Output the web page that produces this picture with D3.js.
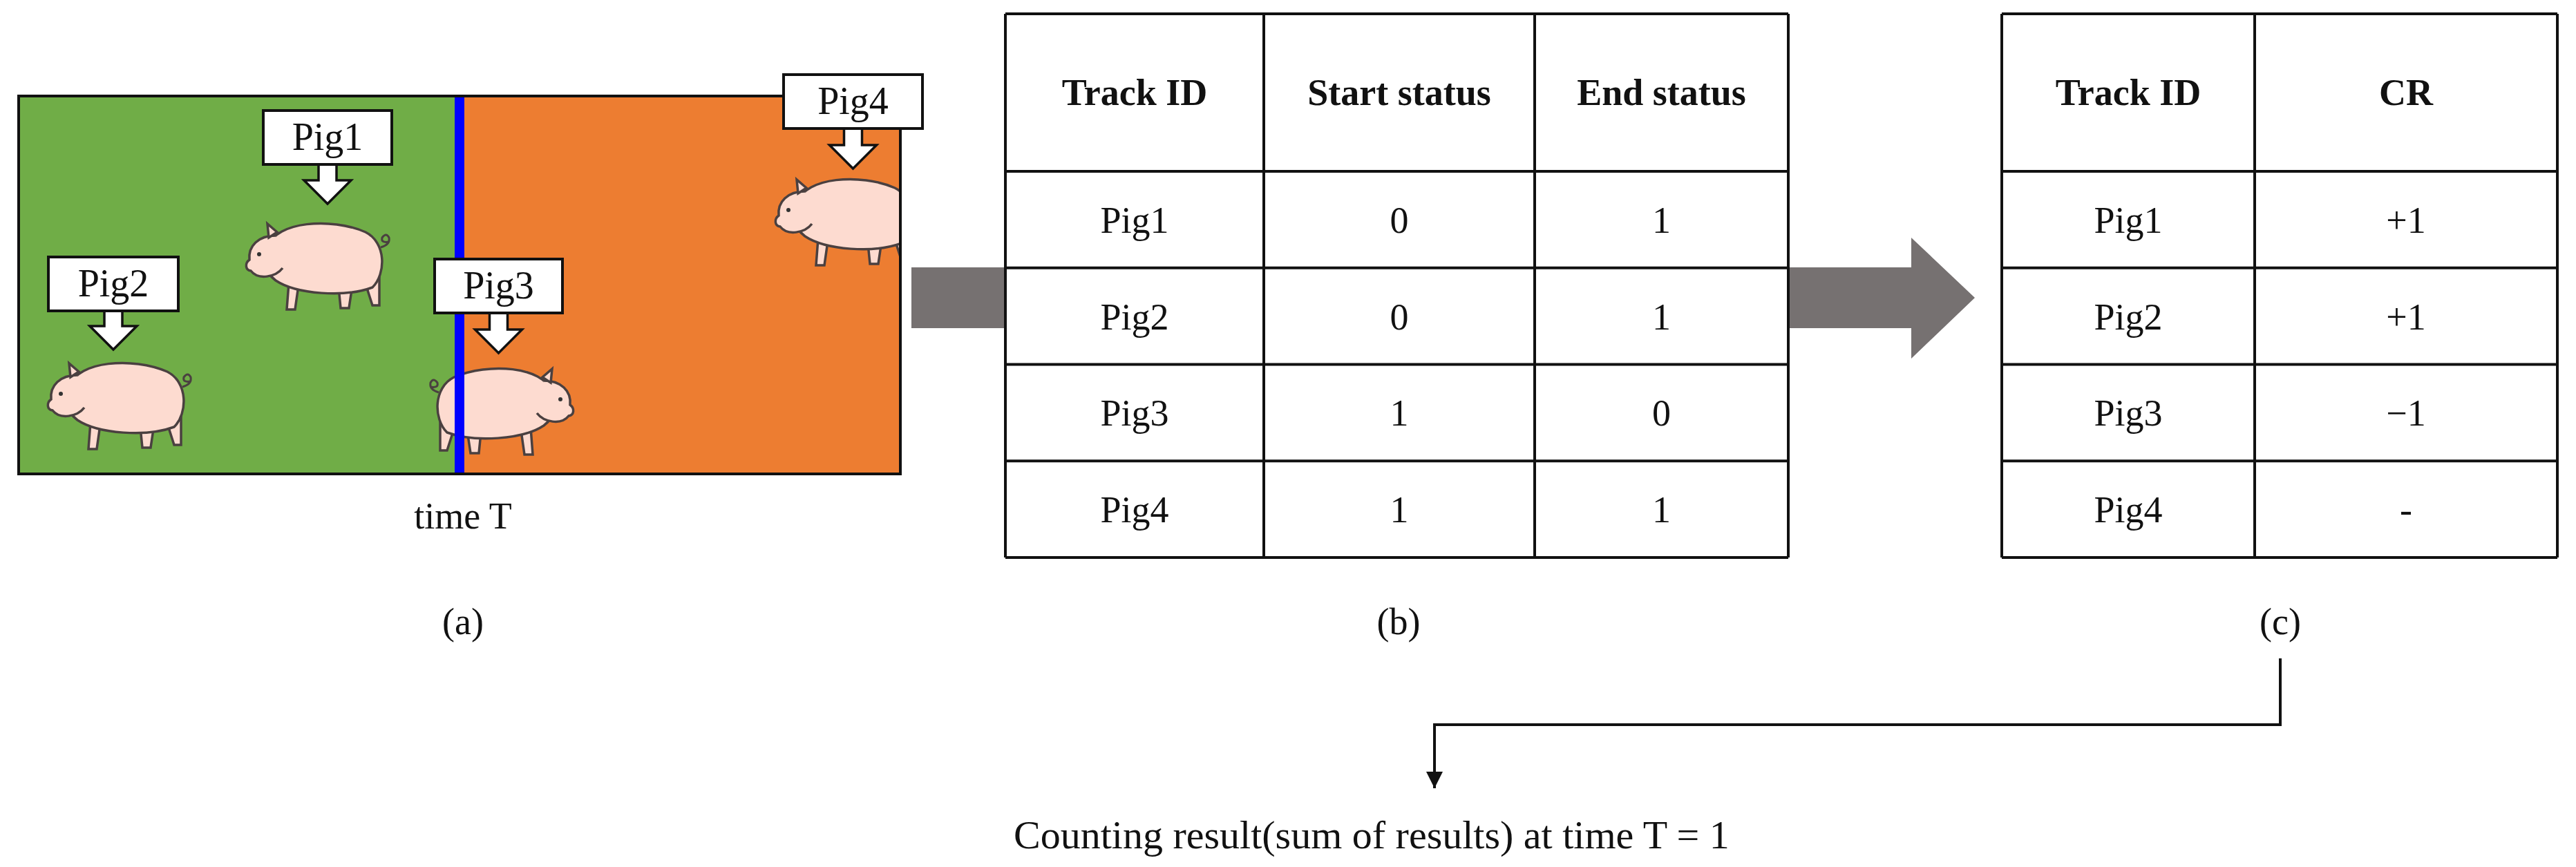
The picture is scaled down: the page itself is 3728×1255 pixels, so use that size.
<!DOCTYPE html>
<html><head><meta charset="utf-8">
<script src="https://cdn.jsdelivr.net/npm/d3@7"></script>
<style>body{margin:0;background:#fff}svg{display:block}text{font-family:"Liberation Serif","DejaVu Serif",serif;fill:#111}</style>
</head><body>
<script>
const trackIds = ["Pig1","Pig2","Pig3","Pig4"];
const startStatus = ["0","0","1","1"];
const endStatus = ["1","1","0","1"];
const crValues = ["+1","+1","\u22121","-"];
const headersB = ["Track ID","Start status","End status"];
const headersC = ["Track ID","CR"];
const panelLabels = ["(a)","(b)","(c)"];
const resultText = "Counting result(sum of results) at time T = 1";

const W=3728,H=1255;
const svg=d3.select("body").append("svg").attr("width",W).attr("height",H);
const defs=svg.append("defs");
defs.append("marker").attr("id","ah").attr("viewBox","0 0 10 10").attr("refX",10).attr("refY",5)
 .attr("markerWidth",4).attr("markerHeight",6).attr("orient","auto").attr("markerUnits","userSpaceOnUse")
 .attr("markerWidth",24).attr("markerHeight",40)
 .append("path").attr("d","M0,0L10,5L0,10Z").attr("fill","#111");

// Panel (a)
const ax=27, ay=139, aw=1276, ah=547;
const xs=d3.scaleLinear().domain([0,1]).range([ax,ax+aw]);
const split=xs(0.5);
svg.append("rect").attr("x",ax).attr("y",ay).attr("width",split-ax).attr("height",ah).attr("fill","#70ad47");
svg.append("rect").attr("x",split).attr("y",ay).attr("width",ax+aw-split).attr("height",ah).attr("fill","#ed7d31");
defs.append("clipPath").attr("id","clipA").append("rect").attr("x",ax).attr("y",ay-200).attr("width",aw).attr("height",ah+400);

function pig(x,y,s,flip,clip){
  const g=svg.append("g").attr("transform",`translate(${x},${y}) scale(${flip?-s:s},${s})`);
  if(clip) g.attr("clip-path",null);
  const st={fill:"#fddbd0",stroke:"#4a4040","stroke-width":3.5/s};
  const ap=(d)=>{const p=g.append("path").attr("d",d);Object.entries(st).forEach(([k,v])=>p.attr(k,v));return p;};
  // tail
  g.append("path").attr("d","M92,-18 q14,-4 12,-14 q-4,-8 -10,0 q-2,8 10,6").attr("fill","none").attr("stroke","#4a4040").attr("stroke-width",3/s);
  // legs
  ap("M-40,20 L-44,72 L-32,72 L-26,30Z");
  ap("M30,30 L34,70 L46,70 L52,30Z");
  ap("M62,10 L80,66 L90,66 L90,20Z");
  // body
  ap("M-70,-20 C-60,-55 20,-62 70,-40 C100,-25 100,20 80,40 C40,55 -30,50 -60,30 C-80,15 -78,-5 -70,-20Z");
  // head
  ap("M-60,-35 C-85,-35 -100,-20 -98,0 C-105,5 -104,15 -96,16 C-85,30 -60,25 -50,12");
  // ear
  ap("M-70,-32 L-72,-52 L-58,-40Z");
  g.append("circle").attr("cx",-84).attr("cy",-8).attr("r",3).attr("fill","#333");
  return g;
}
pig(459,376,1,false);
pig(172,578,1,false);
pig(727,586,1,true);
const p4=svg.append("g").attr("clip-path","url(#clipA)");
(function(){const g=pig(1225,312,1,false);p4.node().appendChild(g.node());})();

svg.append("rect").attr("x",split-7).attr("y",ay).attr("width",14).attr("height",ah).attr("fill","#0000ff");
svg.append("rect").attr("x",ax).attr("y",ay).attr("width",aw).attr("height",ah).attr("fill","none").attr("stroke","#111").attr("stroke-width",4);

// callout labels
const callouts=[{id:"Pig1",x:381,y:160,w:186,tip:295},{id:"Pig2",x:70,y:372,w:188,tip:506},{id:"Pig3",x:629,y:375,w:185,tip:511},{id:"Pig4",x:1134,y:108,w:201,tip:244}];
callouts.forEach(c=>{
  const cx=c.x+c.w/2, by=c.y+78;
  svg.append("path").attr("d",`M${cx-13},${by} V${c.tip-34} H${cx-34} L${cx},${c.tip} L${cx+34},${c.tip-34} H${cx+13} V${by}`)
   .attr("fill","#fff").attr("stroke","#111").attr("stroke-width",3.5);
  svg.append("rect").attr("x",c.x).attr("y",c.y).attr("width",c.w).attr("height",78).attr("fill","#fff").attr("stroke","#111").attr("stroke-width",4);
  svg.append("text").attr("x",cx).attr("y",c.y+57).attr("text-anchor","middle").attr("font-size",56).text(c.id);
});
svg.append("text").attr("x",670).attr("y",765).attr("text-anchor","middle").attr("font-size",54).text("time T");

// arrows
svg.append("rect").attr("x",1319).attr("y",387).attr("width",136).attr("height",88).attr("fill","#767171");
svg.append("path").attr("d","M2588,387 H2766 V344 L2858,431 L2766,519 V475 H2588Z").attr("fill","#767171");

// tables
function table(cols,headers,columns){
  const rows=d3.scaleBand().domain(trackIds).range([248,807]);
  const top=20, hb=248;
  const g=svg.append("g");
  const x0=cols[0], x1=cols[cols.length-1];
  g.append("rect").attr("x",x0).attr("y",top).attr("width",x1-x0).attr("height",807-top).attr("fill","#fff");
  headers.forEach((h,i)=>g.append("text").attr("x",(cols[i]+cols[i+1])/2).attr("y",(top+hb)/2+18).attr("text-anchor","middle").attr("font-size",54).attr("font-weight","bold").text(h));
  columns.forEach((col,i)=>col.forEach((v,j)=>g.append("text").attr("x",(cols[i]+cols[i+1])/2).attr("y",rows(trackIds[j])+rows.bandwidth()/2+19).attr("text-anchor","middle").attr("font-size",54).text(v)));
  const ys=[top,...trackIds.map(t=>rows(t)),807];
  ys.forEach(y=>g.append("line").attr("x1",x0).attr("x2",x1).attr("y1",y).attr("y2",y).attr("stroke","#111").attr("stroke-width",4));
  cols.forEach(x=>g.append("line").attr("x1",x).attr("x2",x).attr("y1",top).attr("y2",807).attr("stroke","#111").attr("stroke-width",4));
}
table([1455,1829,2221,2588],headersB,[trackIds,startStatus,endStatus]);
table([2897,3263,3701],headersC,[trackIds,crValues]);

[[670,panelLabels[0]],[2024,panelLabels[1]],[3300,panelLabels[2]]].forEach(([x,t])=>
  svg.append("text").attr("x",x).attr("y",918).attr("text-anchor","middle").attr("font-size",54).text(t));

svg.append("path").attr("d","M3300,953 V1049 H2076 V1141").attr("fill","none").attr("stroke","#111").attr("stroke-width",4).attr("marker-end","url(#ah)");
svg.append("text").attr("x",1467).attr("y",1228).attr("font-size",58).text(resultText);
</script>
</body></html>
